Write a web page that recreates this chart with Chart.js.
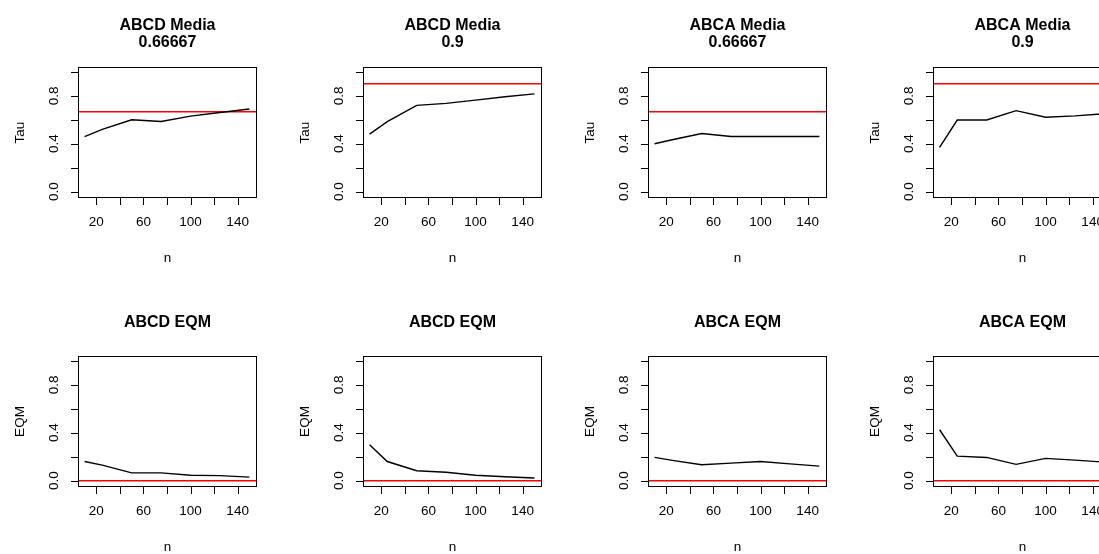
<!DOCTYPE html>
<html>
<head>
<meta charset="utf-8">
<script src="https://cdn.jsdelivr.net/npm/chart.js@4"></script>
<style>
    body { margin: 0; background: #fff; }
    #wrap { position: relative; width: 1099px; height: 554px; overflow: hidden; background: #fff; }
    #wrap canvas { position: absolute; }
</style>
</head>
<body>
<div id="wrap"></div>
<script>
// sample sizes
const nValues = [10, 25, 50, 75, 100, 125, 150];

// mean of tau
const abcdMedia0667 = [0.46, 0.52, 0.60, 0.585, 0.63, 0.66, 0.69];
const abcdMedia09 = [0.48, 0.585, 0.72, 0.737, 0.764, 0.792, 0.816];
const abcaMedia0667 = [0.40, 0.433, 0.485, 0.46, 0.46, 0.46, 0.46];
const abcaMedia09 = [0.37, 0.598, 0.598, 0.676, 0.621, 0.632, 0.65];

// mean squared error
const abcdEqm0667 = [0.16, 0.13, 0.065, 0.065, 0.045, 0.042, 0.03];
const abcdEqm09 = [0.30, 0.16, 0.083, 0.07, 0.045, 0.033, 0.022];
const abcaEqm0667 = [0.195, 0.17, 0.133, 0.147, 0.16, 0.14, 0.122];
const abcaEqm09 = [0.425, 0.205, 0.194, 0.136, 0.186, 0.172, 0.155];

const panelSeries = [abcdMedia0667, abcdMedia09, abcaMedia0667, abcaMedia09,
                     abcdEqm0667, abcdEqm09, abcaEqm0667, abcaEqm09];
const panelTitles = [['ABCD Media', '0.66667'], ['ABCD Media', '0.9'], ['ABCA Media', '0.66667'], ['ABCA Media', '0.9'],
                     ['ABCD EQM'], ['ABCD EQM'], ['ABCA EQM'], ['ABCA EQM']];
const panelYTitles = ['Tau', 'Tau', 'Tau', 'Tau', 'EQM', 'EQM', 'EQM', 'EQM'];
const refValues = [0.66667, 0.9, 0.66667, 0.9, 0, 0, 0, 0];

const xTicks = [20, 40, 60, 80, 100, 120, 140];
const xLabels = [20, 60, 100, 140];
const yTicks = [0, 0.2, 0.4, 0.6, 0.8, 1.0];
const yLabels = [0, 0.4, 0.8];

const FONT = '"Liberation Sans", Arial, sans-serif';
const PANEL_W = 285, PANEL_H = 277;
const BOX_LEFT = 78, BOX_RIGHT = 256;
const rowBox = [{ top: 67, bottom: 196.5 }, { top: 79, bottom: 208.5 }];

// R style axis limits: data range plus 4% each side
const nMin = Math.min(...nValues), nMax = Math.max(...nValues);
const xMin = nMin - (nMax - nMin) * 0.04;
const xMax = nMax + (nMax - nMin) * 0.04;
const yMin = -0.04, yMax = 1.04;

const rAxes = {
    id: 'rAxes',
    afterDraw(chart, args, opts) {
        const ctx = chart.ctx;
        const area = chart.chartArea;
        const xs = chart.scales.x, ys = chart.scales.y;
        const L = Math.round(area.left) + 0.5, R = Math.round(area.right) + 0.5;
        const T = Math.round(area.top) + 0.5, B = Math.round(area.bottom) + 0.5;
        ctx.save();
        ctx.strokeStyle = '#000';
        ctx.lineWidth = 1;
        ctx.strokeRect(L, T, R - L, B - T);

        ctx.beginPath();
        xTicks.forEach(v => {
            const px = Math.round(xs.getPixelForValue(v)) + 0.5;
            ctx.moveTo(px, B);
            ctx.lineTo(px, B + 7.5);
        });
        yTicks.forEach(v => {
            const py = Math.round(ys.getPixelForValue(v)) + 0.5;
            ctx.moveTo(L, py);
            ctx.lineTo(L - 7.5, py);
        });
        ctx.stroke();

        ctx.fillStyle = '#000';
        ctx.font = '13.5px ' + FONT;
        ctx.textAlign = 'center';
        ctx.textBaseline = 'middle';
        xLabels.forEach(v => {
            ctx.fillText(String(v), xs.getPixelForValue(v), B + 25);
        });
        ctx.fillText('n', (L + R) / 2, B + 61);

        yLabels.forEach(v => {
            ctx.save();
            ctx.translate(L - 24.5, ys.getPixelForValue(v));
            ctx.rotate(-Math.PI / 2);
            ctx.fillText(v.toFixed(1), 0, 0);
            ctx.restore();
        });
        ctx.save();
        ctx.translate(L - 58, (T + B) / 2);
        ctx.rotate(-Math.PI / 2);
        ctx.fillText(opts.yTitle, 0, 0);
        ctx.restore();

        ctx.font = 'bold 16px ' + FONT;
        const lines = opts.title;
        const centre = T - 33.5;
        lines.forEach((line, k) => {
            const y = centre + (k - (lines.length - 1) / 2) * 16.7;
            ctx.fillText(line, (L + R) / 2, y);
        });
        ctx.restore();
    }
};

function makePanel(i) {
    const row = Math.floor(i / 4), col = i % 4;
    const box = rowBox[row];
    const canvas = document.createElement('canvas');
    canvas.width = PANEL_W;
    canvas.height = PANEL_H;
    canvas.style.left = (col * PANEL_W) + 'px';
    canvas.style.top = (row * PANEL_H) + 'px';
    document.getElementById('wrap').appendChild(canvas);

    const values = panelSeries[i];
    new Chart(canvas.getContext('2d'), {
        type: 'line',
        data: {
            datasets: [{
                data: nValues.map((n, k) => ({ x: n, y: values[k] })),
                borderColor: '#000',
                borderWidth: 1.4,
                pointRadius: 0,
                tension: 0
            }, {
                data: [{ x: xMin, y: refValues[i] }, { x: xMax, y: refValues[i] }],
                borderColor: '#ff0000',
                borderWidth: 1.5,
                pointRadius: 0
            }]
        },
        options: {
            responsive: false,
            animation: false,
            events: [],
            layout: {
                padding: { left: BOX_LEFT, right: PANEL_W - BOX_RIGHT, top: box.top, bottom: PANEL_H - box.bottom }
            },
            scales: {
                x: { type: 'linear', min: xMin, max: xMax, display: false },
                y: { type: 'linear', min: yMin, max: yMax, display: false }
            },
            plugins: {
                legend: { display: false },
                tooltip: { enabled: false },
                rAxes: { title: panelTitles[i], yTitle: panelYTitles[i] }
            }
        },
        plugins: [rAxes]
    });
}

for (let i = 0; i < 8; i++) {
    makePanel(i);
}
</script>
</body>
</html>
